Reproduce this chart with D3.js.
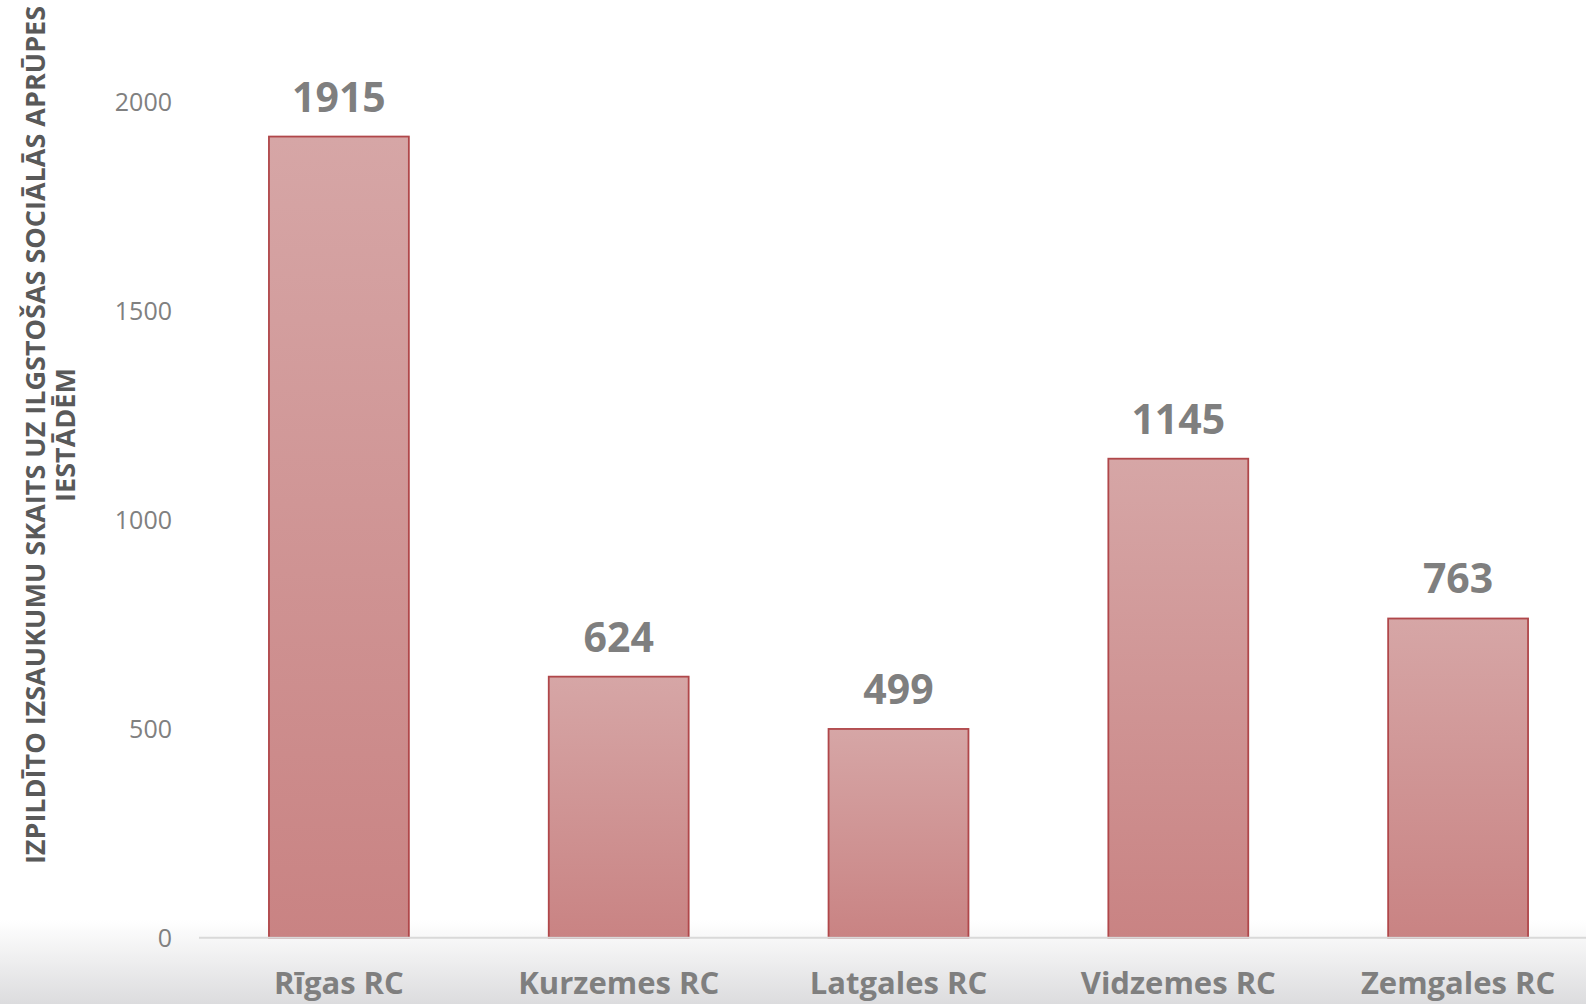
<!DOCTYPE html>
<html>
<head>
<meta charset="utf-8">
<script src="https://cdn.jsdelivr.net/npm/d3@7"></script>
<style>
  html, body { margin: 0; padding: 0; background: #fff; overflow: hidden; }
  svg { display: block; }
</style>
</head>
<body>
<div id="chart"></div>
<script>
const regions = ["Rīgas RC", "Kurzemes RC", "Latgales RC", "Vidzemes RC", "Zemgales RC"];
const calls = [1915, 624, 499, 1145, 763];
const yTicks = [0, 500, 1000, 1500, 2000];
const titleLines = ["IZPILDĪTO IZSAUKUMU SKAITS UZ ILGSTOŠAS SOCIĀLĀS APRŪPES", "IESTĀDĒM"];

const W = 1586, H = 1004;
const font = "'Open Sans', 'DejaVu Sans', sans-serif";

const svg = d3.select("#chart").append("svg")
    .attr("width", W)
    .attr("height", H);

const defs = svg.append("defs");

// soft grey band at the bottom of the slide
let bg = defs.append("linearGradient")
    .attr("id", "bgGrad")
    .attr("x1", 0).attr("y1", 0).attr("x2", 0).attr("y2", 1);
bg.append("stop").attr("offset", "0%").attr("stop-color", "#ffffff");
bg.append("stop").attr("offset", "100%").attr("stop-color", "#dcdcde");

let barGrad = defs.append("linearGradient")
    .attr("id", "barGrad")
    .attr("x1", 0).attr("y1", 0).attr("x2", 0).attr("y2", 1);
barGrad.append("stop").attr("offset", "0%").attr("stop-color", "#d6a6a6");
barGrad.append("stop").attr("offset", "100%").attr("stop-color", "#c98383");

svg.append("rect")
    .attr("x", 0).attr("y", 920)
    .attr("width", W).attr("height", H - 920)
    .attr("fill", "url(#bgGrad)");

const x = d3.scaleBand()
    .domain(regions)
    .range([199, 1598])
    .paddingInner(0.5)
    .paddingOuter(0.25);

const y = d3.scaleLinear()
    .domain([0, 2000])
    .range([937.7, 101]);

// y axis labels (no line, no ticks)
const yAxis = svg.append("g")
    .attr("transform", "translate(172,0)")
    .call(d3.axisLeft(y).tickValues(yTicks).tickFormat(d3.format("d")).tickSize(0).tickPadding(0));
yAxis.select(".domain").remove();
yAxis.selectAll("text")
    .attr("fill", "#808080")
    .attr("font-family", font)
    .attr("font-size", 25)
    .attr("dy", "0.36em");

// bars
svg.append("g").selectAll("rect")
    .data(calls)
    .join("rect")
    .attr("x", (d, i) => x(regions[i]))
    .attr("y", d => y(d))
    .attr("width", x.bandwidth())
    .attr("height", d => y(0) - y(d))
    .attr("fill", "url(#barGrad)")
    .attr("stroke", "#b0474a")
    .attr("stroke-width", 1.8);

// baseline
svg.append("line")
    .attr("x1", 199).attr("x2", W)
    .attr("y1", y(0)).attr("y2", y(0))
    .attr("stroke", "#d9d9d9")
    .attr("stroke-width", 2);

// value labels
svg.append("g").selectAll("text")
    .data(calls)
    .join("text")
    .attr("x", (d, i) => x(regions[i]) + x.bandwidth() / 2)
    .attr("y", d => y(d) - 25)
    .attr("text-anchor", "middle")
    .attr("fill", "#7f7f7f")
    .attr("font-family", font)
    .attr("font-weight", 700)
    .attr("font-size", 41)
    .text(d => d);

// category labels
const xAxis = svg.append("g")
    .attr("transform", `translate(0,${y(0)})`)
    .call(d3.axisBottom(x).tickSize(0).tickPadding(0));
xAxis.select(".domain").remove();
xAxis.selectAll("text")
    .attr("fill", "#7f7f7f")
    .attr("font-family", font)
    .attr("font-weight", 700)
    .attr("font-size", 31)
    .attr("dy", 0)
    .attr("y", 56);

// rotated axis title, two lines
svg.append("text")
    .attr("transform", "translate(35,435) rotate(-90)")
    .attr("text-anchor", "middle")
    .attr("fill", "#595959")
    .attr("font-family", font)
    .attr("font-weight", 700)
    .attr("font-size", 27)
    .selectAll("tspan")
    .data(titleLines)
    .join("tspan")
    .attr("x", 0)
    .attr("y", (d, i) => i * 30 + 10)
    .text(d => d);
</script>
</body>
</html>
